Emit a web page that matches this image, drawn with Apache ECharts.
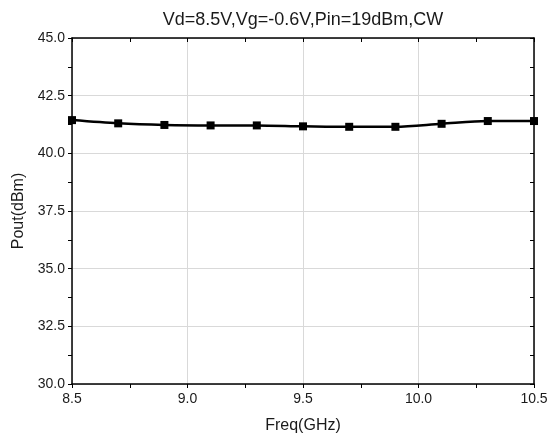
<!DOCTYPE html>
<html>
<head>
<meta charset="utf-8">
<script src="https://cdn.jsdelivr.net/npm/echarts@6/dist/echarts.min.js"></script>
<style>
html,body{margin:0;padding:0;background:#fff;}
#chart{width:550px;height:434px;}
</style>
</head>
<body>
<div id="chart"></div>
<script>
var freq=[8.5,8.7,8.9,9.1,9.3,9.5,9.7,9.9,10.1,10.3,10.5];
var pout=[41.44,41.30,41.23,41.21,41.21,41.17,41.15,41.15,41.28,41.40,41.40];
var titleText='Vd=8.5V,Vg=-0.6V,Pin=19dBm,CW';

var font='"Liberation Sans", Arial, sans-serif';
var points=freq.map(function(f,i){return [f,pout[i]];});

var myChart=echarts.init(document.getElementById('chart'));
var option={
    animation:false,
    title:{
        text:titleText,
        left:298,
        textAlign:'center',
        top:6,
        textStyle:{color:'#1a1a1a',fontSize:18,fontWeight:'normal',fontFamily:font}
    },
    grid:{left:72,right:16,top:38,bottom:50,outerBoundsMode:'none'},
    xAxis:[
        {
            type:'value',min:8.5,max:10.5,interval:0.5,
            name:'Freq(GHz)',nameLocation:'middle',nameGap:34,
            nameTextStyle:{color:'#1a1a1a',fontSize:16,fontFamily:font},
            axisLine:{show:true,lineStyle:{color:'#000',width:1.5}},
            axisTick:{show:true,inside:false,length:4,lineStyle:{color:'#000'}},
            minorTick:{show:true,splitNumber:2,length:4,lineStyle:{color:'#000'}},
            axisLabel:{color:'#1a1a1a',fontSize:14,fontFamily:font,margin:8,
                formatter:function(v){return v.toFixed(1);}},
            splitLine:{show:true,lineStyle:{color:'#d9d9d9',width:1}}
        },
        {
            type:'value',min:8.5,max:10.5,interval:0.5,position:'top',
            axisLine:{show:true,lineStyle:{color:'#000',width:1.5}},
            axisTick:{show:true,inside:true,length:4,lineStyle:{color:'#000'}},
            minorTick:{show:true,splitNumber:2,length:4,lineStyle:{color:'#000'}},
            axisLabel:{show:false},
            splitLine:{show:false}
        }
    ],
    yAxis:[
        {
            type:'value',min:30,max:45,interval:2.5,
            name:'Pout(dBm)',nameLocation:'middle',nameGap:43,
            nameTextStyle:{color:'#1a1a1a',fontSize:16,fontFamily:font},
            axisLine:{show:true,lineStyle:{color:'#000',width:1.5}},
            axisTick:{show:true,inside:false,length:4,lineStyle:{color:'#000'}},
            minorTick:{show:true,splitNumber:2,length:4,lineStyle:{color:'#000'}},
            axisLabel:{color:'#1a1a1a',fontSize:14,fontFamily:font,margin:7,
                formatter:function(v){return v.toFixed(1);}},
            splitLine:{show:true,lineStyle:{color:'#d9d9d9',width:1}}
        },
        {
            type:'value',min:30,max:45,interval:2.5,position:'right',
            axisLine:{show:true,lineStyle:{color:'#000',width:1.5}},
            axisTick:{show:true,inside:true,length:4,lineStyle:{color:'#000'}},
            minorTick:{show:true,splitNumber:2,length:4,lineStyle:{color:'#000'}},
            axisLabel:{show:false},
            splitLine:{show:false}
        }
    ],
    series:[
        {
            type:'line',
            data:points,
            smooth:0.3,
            symbol:'rect',
            symbolSize:8,
            itemStyle:{color:'#000'},
            lineStyle:{color:'#000',width:2.5},
            clip:false
        }
    ]
};
myChart.setOption(option);
</script>
</body>
</html>
